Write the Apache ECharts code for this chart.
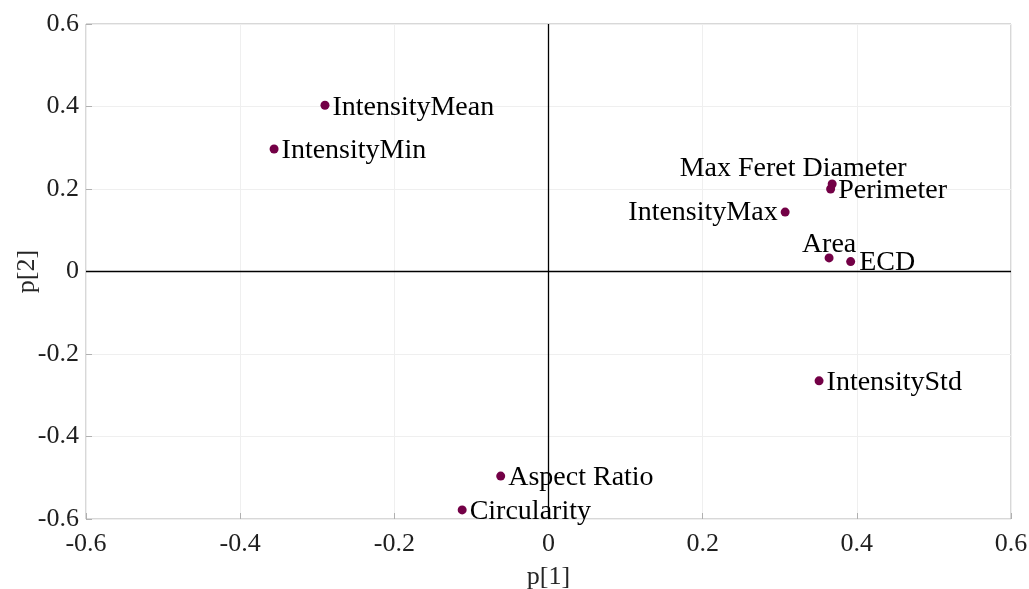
<!DOCTYPE html>
<html>
<head>
<meta charset="utf-8">
<script src="https://cdn.jsdelivr.net/npm/echarts@6/dist/echarts.min.js"></script>
<style>html,body{margin:0;padding:0;background:#fff;}#c{width:1029px;height:589px;}</style>
</head>
<body>
<div id="c"></div>
<script>
const names = ['IntensityMean','IntensityMin','Max Feret Diameter','Perimeter','IntensityMax','Area','ECD','IntensityStd','Aspect Ratio','Circularity'];
const p1 = [-0.290,-0.356,0.368,0.366,0.307,0.364,0.392,0.351,-0.062,-0.112];
const p2 = [0.403,0.297,0.212,0.200,0.144,0.033,0.024,-0.265,-0.496,-0.578];
const xTicks = [-0.6,-0.4,-0.2,0,0.2,0.4,0.6];
const yTicks = [-0.6,-0.4,-0.2,0,0.2,0.4,0.6];

const FONT = "'Liberation Serif','Times New Roman',serif";
const labelPos = {
  'Max Feret Diameter': {position:'top', distance:0, offset:[-39,3]},
  'IntensityMax': {position:'left', distance:3, offset:[0,1]},
  'Area': {position:'top', distance:0, offset:[0,5]},
  'ECD': {position:'right', distance:4, offset:[0,1]}
};
const data = names.map((n,i)=>{
  const d = {value:[p1[i],p2[i]], name:n};
  const lp = labelPos[n];
  if (lp) d.label = Object.assign({show:true}, lp);
  return d;
});
const chart = echarts.init(document.getElementById('c'));
chart.setOption({
  animation:false,
  grid:{left:86,right:18,top:24,bottom:70,containLabel:false,outerBoundsMode:'none',show:true,borderColor:'#b0b0b0',borderWidth:1,backgroundColor:'transparent'},
  xAxis:{type:'value',min:-0.6,max:0.6,interval:0.2,
    name:'p[1]',nameLocation:'middle',nameGap:45,nameMoveOverlap:false,
    nameTextStyle:{fontFamily:FONT,fontSize:26,color:'#262626'},
    axisLine:{show:false,onZero:false},
    axisTick:{show:true,inside:true,length:6,lineStyle:{color:'#b0b0b0'}},
    axisLabel:{fontFamily:FONT,fontSize:26,color:'#1f1f1f',margin:12,formatter:v=>String(Math.round(v*10)/10)},
    splitLine:{show:true,lineStyle:{color:'#efefef',width:1}}},
  yAxis:{type:'value',min:-0.6,max:0.6,interval:0.2,
    name:'p[2]',nameLocation:'middle',nameGap:46,nameMoveOverlap:false,
    nameTextStyle:{fontFamily:FONT,fontSize:26,color:'#262626'},
    axisLine:{show:false,onZero:false},
    axisTick:{show:true,inside:true,length:6,lineStyle:{color:'#b0b0b0'}},
    axisLabel:{fontFamily:FONT,fontSize:26,color:'#1f1f1f',margin:7,formatter:v=>String(Math.round(v*10)/10)},
    splitLine:{show:true,lineStyle:{color:'#efefef',width:1}}},
  series:[{
    type:'scatter',
    symbolSize:9,
    itemStyle:{color:'#730046',opacity:1},
    data:data,
    label:{show:true,position:'right',distance:3,offset:[0,2],formatter:p=>p.name,
      fontFamily:FONT,fontSize:28,color:'#000'},
    markLine:{silent:true,symbol:'none',label:{show:false},
      lineStyle:{color:'#000',width:1.3,type:'solid'},
      data:[{xAxis:0},{yAxis:0}]},
    z:3
  }]
});
</script>
</body>
</html>
